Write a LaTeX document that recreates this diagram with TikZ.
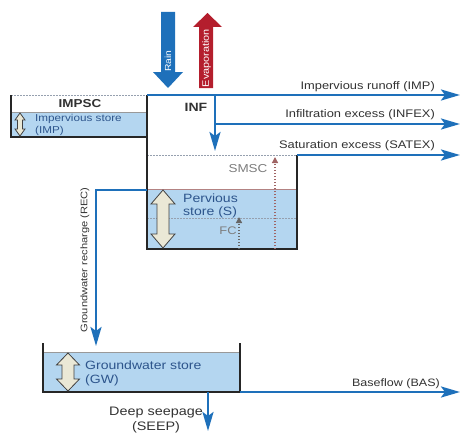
\documentclass[tikz,border=0pt]{standalone}
\usepackage{fontspec}
\setmainfont{Liberation Sans}[FakeStretch=1.17]
\usetikzlibrary{arrows.meta}
\definecolor{flowblue}{RGB}{30,112,186}
\definecolor{fillblue}{RGB}{180,214,240}
\definecolor{evred}{RGB}{180,30,45}
\definecolor{beige}{RGB}{234,232,214}
\definecolor{txt}{RGB}{50,50,50}
\definecolor{bluetxt}{RGB}{45,85,140}
\definecolor{greytxt}{RGB}{125,125,125}
\definecolor{dotgrey}{RGB}{150,160,175}
\definecolor{smscbrown}{RGB}{160,100,100}
\newcommand\dblarrowshape[6]{% x, ytop, ybot, head half, shaft half, head length
  \filldraw[fill=beige,draw=black!75,line width=0.8pt,line join=miter]
    (#1,#2) -- (#1+#4,#2+#6) -- (#1+#5,#2+#6) -- (#1+#5,#3-#6) -- (#1+#4,#3-#6)
    -- (#1,#3) -- (#1-#4,#3-#6) -- (#1-#5,#3-#6) -- (#1-#5,#2+#6) -- (#1-#4,#2+#6) -- cycle;}
\newcommand\fs[2]{\fontsize{#1}{#2}\selectfont}
\tikzset{
  flow/.style={draw=flowblue,line width=2.6pt,-{Stealth[length=19pt,width=11pt,inset=4pt]}},
  wall/.style={draw=black!85,line width=1.6pt},
  lbl/.style={text=txt,font=\fs{11}{13},inner sep=0pt},
  bluelbl/.style={text=bluetxt,inner sep=0pt,align=left},
  greylbl/.style={text=greytxt,font=\fs{11.5}{13},inner sep=0pt},
  dotl/.style={draw=dotgrey,line width=1pt,dash pattern=on 1.5pt off 1.5pt},
  biglbl/.style={rotate=90,text=white,inner sep=0pt},
}
\begin{document}
\begin{tikzpicture}[x=1pt,y=-1pt]
\useasboundingbox (0,0) rectangle (468,436);
% fills
\fill[fillblue] (11,112) rectangle (147,137);
\draw[black!40,line width=0.5pt] (11,112) -- (147,112);
\fill[fillblue] (147,189) rectangle (297,249);
\draw[smscbrown!80,line width=0.7pt] (147,189) -- (297,189);
\fill[fillblue] (43,352) rectangle (240,392);
\draw[black!40,line width=0.5pt] (43,352) -- (240,352);
% dotted levels
\draw[dotl] (11,95) -- (147,95);
\draw[dotl] (147,155) -- (297,155);
\draw[dotl] (147,218) -- (297,218);
% walls
\draw[wall] (11,95) -- (11,137) -- (147,137);
\draw[wall] (147,95) -- (147,249) -- (297,249) -- (297,155);
\draw[wall] (43,343) -- (43,392) -- (240,392) -- (240,343);
% coordinates
\coordinate (infTop) at (147,95);
\coordinate (impEnd) at (460,95);
\coordinate (infS) at (215,95);
\coordinate (infE) at (215,151);
\coordinate (infexS) at (215,124);
\coordinate (infexE) at (460,124);
\coordinate (satS) at (297,155);
\coordinate (satE) at (460,155);
\coordinate (recS) at (147,190);
\coordinate (recC) at (96,190);
\coordinate (recE) at (96,346);
\coordinate (basS) at (240,392);
\coordinate (basE) at (460,392);
\coordinate (seepS) at (208,392);
\coordinate (seepE) at (208,431);
\coordinate (smscS) at (275,249);
\coordinate (smscE) at (275,157);
\coordinate (fcS) at (239,249);
\coordinate (fcE) at (239,217);
% flows
\draw[flow] (infTop) -- (impEnd);
\draw[flow] (infS) -- (infE);
\draw[flow] (infexS) -- (infexE);
\draw[flow] (satS) -- (satE);
\draw[flow] (recS) -- (recC) -- (recE);
\draw[flow] (basS) -- (basE);
\draw[flow] (seepS) -- (seepE);
% SMSC / FC dotted arrows
\draw[draw=smscbrown,line width=1.3pt,dash pattern=on 1.5pt off 1.5pt,-{Triangle[length=6pt,width=6pt]}] (smscS) -- (smscE);
\draw[draw=black!60,line width=1.3pt,dash pattern=on 1.5pt off 1.5pt,-{Triangle[length=6pt,width=6pt]}] (fcS) -- (fcE);
% Rain / Evaporation big arrows
\fill[flowblue] (161,12) -- (175,12) -- (175,72) -- (183,72) -- (168,88) -- (153,72) -- (161,72) -- cycle;
\fill[evred] (199,88) -- (213,88) -- (213,27) -- (222,27) -- (207.5,13) -- (193,27) -- (199,27) -- cycle;
\node[biglbl,font=\fs{8.8}{10}] (rain) at (168,61) {Rain};
\node[biglbl,font=\fs{9.3}{10}] (evap) at (206.5,58) {Evaporation};
% double arrows
\dblarrowshape{20}{113}{136}{5}{2.5}{7}
\dblarrowshape{163}{190}{248}{12}{6}{14}
\dblarrowshape{68}{353}{391}{11.5}{6}{12}
% labels
\node[lbl,font=\bfseries\fs{11.5}{13}] (impsc) at (80,104) {IMPSC};
\node[bluelbl,anchor=west,font=\fs{10}{12}] (impst) at (35,125) {Impervious store\\(IMP)};
\node[lbl,font=\bfseries\fs{12}{13}] (inf) at (196,107) {INF};
\node[lbl,anchor=east] (impr) at (435,87) {Impervious runoff (IMP)};
\node[lbl,anchor=east] (infex) at (435,115) {Infiltration excess (INFEX)};
\node[lbl,anchor=east] (satex) at (435,146) {Saturation excess (SATEX)};
\node[greylbl] (smsc) at (248,169) {SMSC};
\node[greylbl,font=\fs{11}{13}] (fc) at (228,231) {FC};
\node[bluelbl,anchor=west,font=\fs{12}{13}] (perv) at (183,206) {Pervious\\store (S)};
\node[lbl,rotate=90,font=\fs{9.5}{12}] (rec) at (85,260) {Groundwater recharge (REC)};
\node[bluelbl,anchor=west,font=\fs{12}{14}] (gw) at (85,373) {Groundwater store\\(GW)};
\node[lbl,anchor=east,font=\fs{10.7}{13}] (bas) at (440,384) {Baseflow (BAS)};
\node[lbl,align=center,font=\fs{12.3}{15}] (seep) at (156,420) {Deep seepage\\(SEEP)};
\end{tikzpicture}
\end{document}
